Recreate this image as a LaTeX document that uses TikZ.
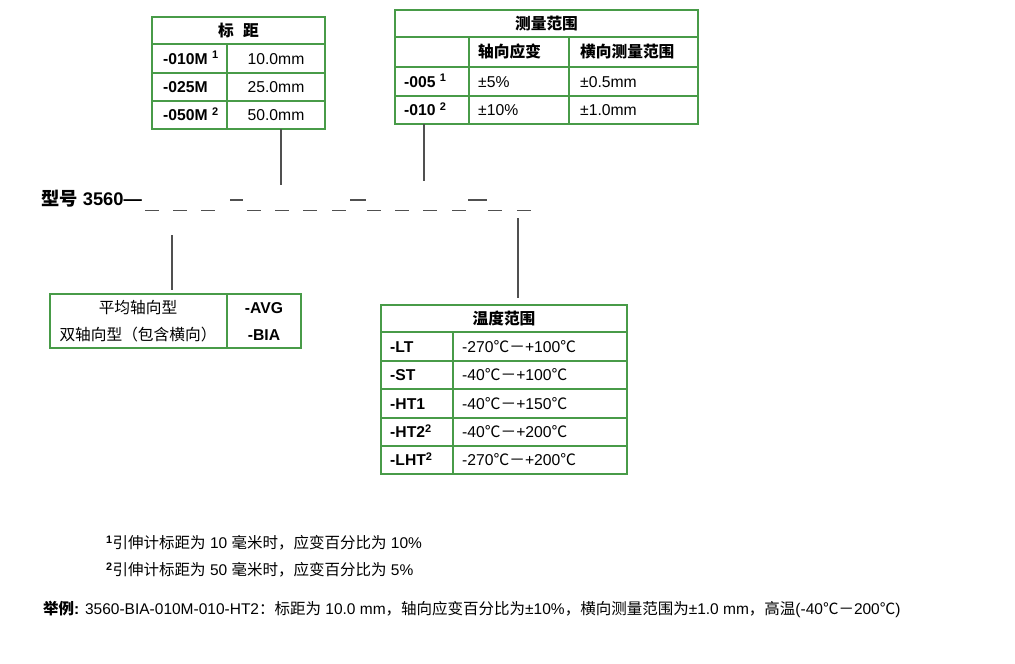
\documentclass[tikz,border=0pt]{standalone}
\usepackage{fontspec}
\usepackage{graphicx}
\setmainfont{Liberation Sans}
\newfontfamily\cjkfont{Noto Sans CJK SC}
\newcommand\zh[1]{{\cjkfont #1}}
\definecolor{tabgreen}{RGB}{72,155,72}
\definecolor{leadgray}{RGB}{80,80,80}
\tikzset{
  tabline/.style={draw=tabgreen, line width=1.1pt},
  leadline/.style={draw=leadgray, line width=1.2pt},
  blankline/.style={draw=leadgray, line width=1.3pt},
  cell/.style={inner sep=0pt, font=\fontsize{15.7}{18}\selectfont, text height=11pt, text depth=0pt},
  keycell/.style={cell, anchor=west, font=\fontsize{15.7}{18}\selectfont\bfseries},
  valcell/.style={cell, anchor=west},
  headcell/.style={cell, font=\fontsize{15.7}{18}\selectfont\bfseries},
  note/.style={inner sep=0pt, anchor=west, font=\fontsize{15.5}{18}\selectfont}
}
\begin{document}
\begin{tikzpicture}[x=1pt, y=-1pt]
    \useasboundingbox (0,0) rectangle (1015,664);

    % gauge length
    \draw[tabline] (152,17) rectangle (325,129);
    \foreach \y in {44,73,101}
        \draw[tabline] (152,\y) -- (325,\y);
    \draw[tabline] (227,44) -- (227,129);
    \node[headcell] (gauge) at (238.5,30.5) {\zh{标\hspace{0.6em}距}};
    \foreach \y/\key/\val [count=\i] in {58.5/{-010M \textsuperscript{1}}/10.0mm, 87/-025M/25.0mm, 115/{-050M \textsuperscript{2}}/50.0mm} {
        \node[keycell] (gauge-key-\i) at (163,\y) {\key};
        \node[cell] (gauge-val-\i) at (276,\y) {\val};
    }

    % measuring range
    \draw[tabline] (395,10) rectangle (698,124);
    \foreach \y in {37,67,96}
        \draw[tabline] (395,\y) -- (698,\y);
    \draw[tabline] (469,37) -- (469,124);
    \draw[tabline] (569,37) -- (569,124);
    \node[headcell] (range) at (546.5,23.5) {\zh{测量范围}};
    \node[keycell] (range-axial) at (478,52) {\zh{轴向应变}};
    \node[keycell] (range-trans) at (580,52) {\zh{横向测量范围}};
    \foreach \y/\key/\ax/\tr [count=\i] in {81.5/{-005 \textsuperscript{1}}/±5\%/±0.5mm, 110/{-010 \textsuperscript{2}}/±10\%/±1.0mm} {
        \node[keycell] (range-key-\i) at (404,\y) {\key};
        \node[valcell] (range-ax-\i) at (478,\y) {\ax};
        \node[valcell] (range-tr-\i) at (580,\y) {\tr};
    }

    % model line
    \node[anchor=west, inner sep=0pt, font=\fontsize{18.3}{20}\selectfont\bfseries] (model) at (41,199) {\zh{型号} 3560—};
    \foreach \x in {145,173,201,247,275,303,332,367,395,423,452,488,517}
        \draw[blankline] (\x,210.5) -- ++(14,0);
    \foreach \x/\len in {230/13,350/16,468/19}
        \draw[blankline] (\x,200) -- ++(\len,0);

    % leaders
    \coordinate (gauge-foot) at (281,129);
    \coordinate (gauge-tip) at (281,185);
    \coordinate (range-foot) at (424,124);
    \coordinate (range-tip) at (424,181);
    \coordinate (type-tip) at (172,235);
    \coordinate (type-foot) at (172,290);
    \coordinate (temp-tip) at (518,218);
    \coordinate (temp-foot) at (518,298);
    \draw[leadline] (gauge-foot) -- (gauge-tip);
    \draw[leadline] (range-foot) -- (range-tip);
    \draw[leadline] (type-tip) -- (type-foot);
    \draw[leadline] (temp-tip) -- (temp-foot);

    % gauge type
    \draw[tabline] (50,294) rectangle (301,348);
    \draw[tabline] (227,294) -- (227,348);
    \node[cell] (type-avg) at (138,308) {\zh{平均轴向型}};
    \node[cell] (type-bia) at (138,335) {\zh{双轴向型（包含横向）}};
    \node[headcell] (type-avg-key) at (264,308) {-AVG};
    \node[headcell] (type-bia-key) at (264,335) {-BIA};

    % temperature range
    \draw[tabline] (381,305) rectangle (627,474);
    \foreach \y in {332,361,389,418,446}
        \draw[tabline] (381,\y) -- (627,\y);
    \draw[tabline] (453,332) -- (453,474);
    \node[headcell] (temp) at (504,318.5) {\zh{温度范围}};
    \foreach \y/\key/\lo/\hi [count=\i] in {346.5/-LT/-270/+100, 375/-ST/-40/+100, 403.5/-HT1/-40/+150, 432/-HT2\textsuperscript{2}/-40/+200, 460/-LHT\textsuperscript{2}/-270/+200} {
        \node[keycell] (temp-key-\i) at (390,\y) {\key};
        \node[valcell] (temp-val-\i) at (462,\y) {\lo\zh{℃－}\hi\zh{℃}};
    }

    % notes
    \node[note] (note-1) at (106,542.5) {\textsuperscript{\bfseries 1}\zh{引伸计标距为} 10 \zh{毫米时，应变百分比为} 10\%};
    \node[note] (note-2) at (106,569.5) {\textsuperscript{\bfseries 2}\zh{引伸计标距为} 50 \zh{毫米时，应变百分比为} 5\%};
    \node[note] (example) at (43,609) {\textbf{\zh{举例}:} 3560-BIA-010M-010-HT2\zh{：标距为} 10.0 mm\zh{，轴向应变百分比为}±10\%\zh{，横向测量范围为}±1.0 mm\zh{，高温}(-40\zh{℃－}200\zh{℃})};

\end{tikzpicture}
\end{document}
